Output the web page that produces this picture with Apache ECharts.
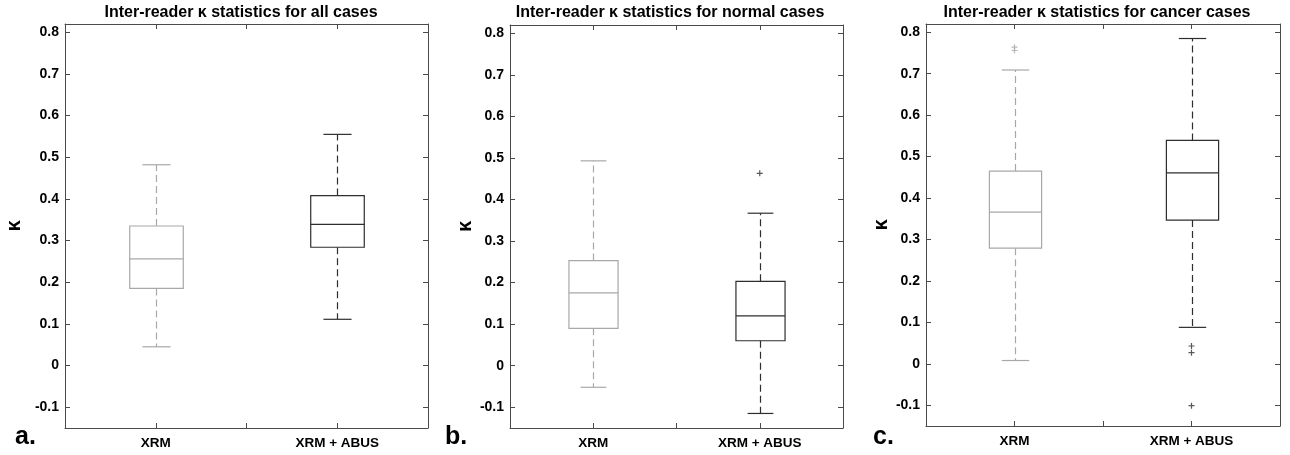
<!DOCTYPE html>
<html>
<head>
<meta charset="utf-8">
<script src="https://cdn.jsdelivr.net/npm/echarts@6/dist/echarts.min.js"></script>
<style>
html,body{margin:0;padding:0;background:#fff;}
#chart{width:1290px;height:455px;}
</style>
</head>
<body>
<div id="chart"></div>
<script>
// ---------- data ----------
const categories = ['XRM', 'XRM + ABUS'];
const titles = [
  'Inter-reader \u03ba statistics for all cases',
  'Inter-reader \u03ba statistics for normal cases',
  'Inter-reader \u03ba statistics for cancer cases'
];
const panelLabels = ['a.', 'b.', 'c.'];
const yAxisName = '\u03ba';
const yTickValues = [-0.1, 0, 0.1, 0.2, 0.3, 0.4, 0.5, 0.6, 0.7, 0.8];

// panel a: all cases  [XRM, XRM + ABUS]
const allWhiskerLow  = [0.045, 0.111];
const allQ1          = [0.185, 0.284];
const allMedian      = [0.256, 0.339];
const allQ3          = [0.335, 0.408];
const allWhiskerHigh = [0.482, 0.555];
const allOutliersXrm  = [];
const allOutliersAbus = [];

// panel b: normal cases
const normalWhiskerLow  = [-0.052, -0.115];
const normalQ1          = [0.090, 0.060];
const normalMedian      = [0.175, 0.120];
const normalQ3          = [0.253, 0.203];
const normalWhiskerHigh = [0.493, 0.367];
const normalOutliersXrm  = [];
const normalOutliersAbus = [0.463];

// panel c: cancer cases
const cancerWhiskerLow  = [0.008, 0.088];
const cancerQ1          = [0.279, 0.347];
const cancerMedian      = [0.366, 0.461];
const cancerQ3          = [0.465, 0.539];
const cancerWhiskerHigh = [0.709, 0.785];
const cancerOutliersXrm  = [0.756, 0.764];
const cancerOutliersAbus = [0.043, 0.027, -0.101];

// ---------- layout / style ----------
const FONT = '"Liberation Sans", Arial, Helvetica, sans-serif';
const FRAME = '#4a4a4a';
const seriesColors = ['#a8a8a8', '#2e2e2e'];
const BOX_W = 0.295;   // in x-axis units
const CAP_W = 0.155;

const panels = [
  { lo: allWhiskerLow, q1: allQ1, med: allMedian, q3: allQ3, hi: allWhiskerHigh, out: [allOutliersXrm, allOutliersAbus],
    grid: { left: 65, top: 24, width: 363, height: 404 }, nameGap: 41, titleX: 241, labelX: 15 },
  { lo: normalWhiskerLow, q1: normalQ1, med: normalMedian, q3: normalQ3, hi: normalWhiskerHigh, out: [normalOutliersXrm, normalOutliersAbus],
    grid: { left: 510, top: 25, width: 333, height: 403 }, nameGap: 35, titleX: 670, labelX: 445 },
  { lo: cancerWhiskerLow, q1: cancerQ1, med: cancerMedian, q3: cancerQ3, hi: cancerWhiskerHigh, out: [cancerOutliersXrm, cancerOutliersAbus],
    grid: { left: 926, top: 24, width: 354, height: 402 }, nameGap: 35, titleX: 1097, labelX: 873 }
];

const grids = [], xAxes = [], yAxes = [], series = [], graphics = [];

function near(v, t) { return Math.abs(v - t) < 1e-6; }

panels.forEach((p, g) => {
  grids.push(Object.assign({ containLabel: false }, p.grid));

  const xCommon = {
    type: 'value', gridIndex: g, min: 0.5, max: 2.5, interval: 0.5,
    splitLine: { show: false },
    axisLine: { show: true, onZero: false, lineStyle: { color: FRAME, width: 1 } },
    axisTick: { show: true, inside: true, length: 5, lineStyle: { color: FRAME } }
  };
  xAxes.push(Object.assign({}, xCommon, {
    position: 'bottom',
    axisLabel: {
      show: true, margin: 8, color: '#000', fontFamily: FONT, fontWeight: 'bold', fontSize: 13.5,
      showMinLabel: true, showMaxLabel: true,
      formatter: v => { const i = Math.round(v) - 1; return (near(v, Math.round(v)) && categories[i]) ? categories[i] : ''; }
    }
  }));
  xAxes.push(Object.assign({}, xCommon, { position: 'top', axisLabel: { show: false } }));

  const yCommon = {
    type: 'value', gridIndex: g, min: -0.15, max: 0.82, splitNumber: 10, minInterval: 0.1, maxInterval: 0.1,
    splitLine: { show: false },
    axisLine: { show: true, onZero: false, lineStyle: { color: FRAME, width: 1 } },
    axisTick: { show: true, inside: true, length: 5, lineStyle: { color: FRAME } }
  };
  yAxes.push(Object.assign({}, yCommon, {
    position: 'left',
    name: yAxisName, nameLocation: 'middle', nameGap: p.nameGap, nameRotate: 90,
    nameTextStyle: { color: '#000', fontFamily: FONT, fontWeight: 'bold', fontSize: 20 },
    axisLabel: {
      show: true, margin: 6, color: '#000', fontFamily: FONT, fontWeight: 'bold', fontSize: 14,
      formatter: v => { const t = yTickValues.find(tv => near(v, tv)); return t === undefined ? '' : String(t); }
    }
  }));
  yAxes.push(Object.assign({}, yCommon, { position: 'right', axisLabel: { show: false } }));

  const boxData = categories.map((c, i) => [i + 1, p.lo[i], p.q1[i], p.med[i], p.q3[i], p.hi[i]]);
  series.push({
    type: 'custom', xAxisIndex: 2 * g, yAxisIndex: 2 * g,
    encode: { x: 0, y: [1, 2, 3, 4, 5] },
    data: boxData,
    silent: true,
    renderItem: (params, api) => {
      const x = api.value(0);
      const color = seriesColors[params.dataIndex];
      const pLo = api.coord([x, api.value(1)]);
      const pQ1 = api.coord([x, api.value(2)]);
      const pMed = api.coord([x, api.value(3)]);
      const pQ3 = api.coord([x, api.value(4)]);
      const pHi = api.coord([x, api.value(5)]);
      const bw = api.size([BOX_W, 0])[0];
      const cw = api.size([CAP_W, 0])[0];
      const cx = Math.round(pMed[0]) + 0.5;
      const solid = { stroke: color, lineWidth: 1.2, fill: null };
      const dashed = { stroke: color, lineWidth: 1.2, lineDash: [7, 4], fill: null };
      return {
        type: 'group',
        children: [
          { type: 'line', shape: { x1: cx, y1: pQ3[1], x2: cx, y2: pHi[1] }, style: dashed },
          { type: 'line', shape: { x1: cx, y1: pQ1[1], x2: cx, y2: pLo[1] }, style: dashed },
          { type: 'line', shape: { x1: cx - cw / 2, y1: pHi[1], x2: cx + cw / 2, y2: pHi[1] }, style: solid },
          { type: 'line', shape: { x1: cx - cw / 2, y1: pLo[1], x2: cx + cw / 2, y2: pLo[1] }, style: solid },
          { type: 'rect', shape: { x: cx - bw / 2, y: pQ3[1], width: bw, height: pQ1[1] - pQ3[1] }, style: { stroke: color, lineWidth: 1.2, fill: '#fff' } },
          { type: 'line', shape: { x1: cx - bw / 2, y1: pMed[1], x2: cx + bw / 2, y2: pMed[1] }, style: solid }
        ]
      };
    }
  });

  p.out.forEach((vals, i) => {
    if (!vals.length) return;
    series.push({
      type: 'scatter', xAxisIndex: 2 * g, yAxisIndex: 2 * g, silent: true,
      symbol: 'path://M5,0L5,10M0,5L10,5', symbolSize: 6,
      itemStyle: { color: 'none', borderColor: seriesColors[i], borderWidth: 1.2 },
      data: vals.map(v => [i + 1, v])
    });
  });

  graphics.push({
    type: 'text', x: p.titleX, y: 13,
    style: { text: titles[g], fill: '#000', font: 'bold 16px ' + FONT, textAlign: 'center', textVerticalAlign: 'middle' }
  });
  graphics.push({
    type: 'text', x: p.labelX, y: 437,
    style: { text: panelLabels[g], fill: '#000', font: 'bold 25px ' + FONT, textAlign: 'left', textVerticalAlign: 'middle' }
  });
});

const chart = echarts.init(document.getElementById('chart'), null, { renderer: 'canvas' });
chart.setOption({
  backgroundColor: '#fff',
  animation: false,
  grid: grids,
  xAxis: xAxes,
  yAxis: yAxes,
  series: series,
  graphic: graphics
});
</script>
</body>
</html>
